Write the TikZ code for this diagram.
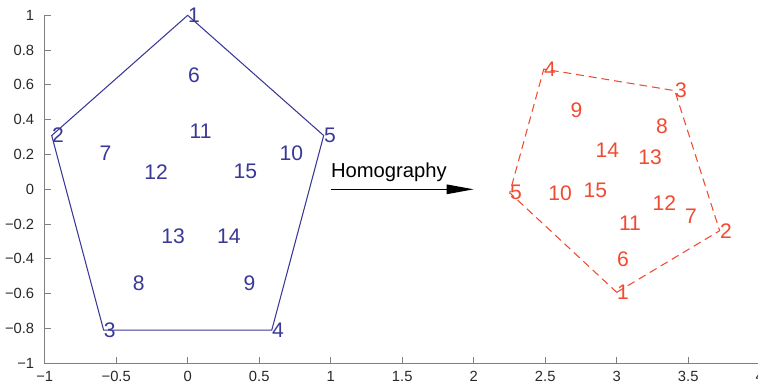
\documentclass[tikz,border=0pt]{standalone}
\usepackage{fontspec}
\setmainfont{Liberation Sans}
\usetikzlibrary{arrows.meta}

\definecolor{ptblue}{RGB}{58,56,150}
\definecolor{ptred}{RGB}{240,74,48}
\definecolor{axgray}{RGB}{128,128,128}
\definecolor{ticktext}{RGB}{40,40,40}

\begin{document}
\begin{tikzpicture}[x=2.86cm,y=3.48cm,
    ptlabel/.style={anchor=west,inner sep=0pt,font=\fontsize{12}{12}\selectfont},
    bluelabel/.style={ptlabel,text=ptblue},
    redlabel/.style={ptlabel,text=ptred},
    ticklabel/.style={inner sep=0pt,text=ticktext,font=\fontsize{8.4}{9}\selectfont}]

    \useasboundingbox (-1.3126,-1.136) rectangle (3.988,1.088);

    % 1. Axes (left and bottom only)
    \draw[axgray, line width=0.9pt] (-1,1) -- (-1,-1) -- (4.05,-1);

    % 2. Y ticks and labels
    \foreach \y/\t in {1/1, 0.8/0.8, 0.6/0.6, 0.4/0.4, 0.2/0.2, 0/0,
                       -0.2/−0.2, -0.4/−0.4, -0.6/−0.6, -0.8/−0.8, -1/−1}
        \draw[axgray, line width=0.6pt] (-1,\y) -- ++(0.045,0)
            node[ticklabel, anchor=east, xshift=-0.2cm] at (-1,\y) {\t};

    % 3. X ticks and labels
    \foreach \x/\t in {-1/−1, -0.5/−0.5, 0/0, 0.5/0.5, 1/1, 1.5/1.5,
                       2/2, 2.5/2.5, 3/3, 3.5/3.5, 4/4}
        \draw[axgray, line width=0.6pt] (\x,-1) -- ++(0,0.035)
            node[ticklabel, anchor=north, yshift=-0.15cm] at (\x,-1) {\t};

    % 4. Original pentagon (solid blue)
    \coordinate (b1) at (0,1);
    \coordinate (b2) at (-0.951,0.309);
    \coordinate (b3) at (-0.588,-0.809);
    \coordinate (b4) at (0.588,-0.809);
    \coordinate (b5) at (0.951,0.309);
    \draw[ptblue, line width=0.6pt] (b1) -- (b2) -- (b3) -- (b4) -- (b5) -- cycle;

    % blue point numbers
    \foreach \n in {1,...,5}
        \node[bluelabel] (bl\n) at (b\n) {\n};
    \foreach \n/\x/\y in {6/0/0.657, 7/-0.618/0.207, 8/-0.385/-0.537,
                          9/0.389/-0.537, 10/0.640/0.207, 11/0.011/0.331,
                          12/-0.306/0.101, 13/-0.187/-0.272, 14/0.203/-0.272,
                          15/0.319/0.101}
        \node[bluelabel] (bl\n) at (\x,\y) {\n};

    % 5. Homography arrow
    \coordinate (hstart) at (1.0,0.0);
    \coordinate (hend) at (2.0,0.0);
    \draw[black, line width=0.6pt, -{Triangle[length=0.54cm,width=0.19cm]}] (hstart) -- (hend);
    \node[anchor=west, inner sep=0pt, font=\fontsize{11.5}{12}\selectfont] (homog) at (1.0,0.097) {Homography};

    % 6. Transformed pentagon (dashed red)
    \coordinate (r1) at (3.0,-0.592);
    \coordinate (r2) at (3.720,-0.238);
    \coordinate (r3) at (3.406,0.567);
    \coordinate (r4) at (2.49,0.691);
    \coordinate (r5) at (2.252,-0.02);
    \draw[ptred, line width=0.6pt, dash pattern=on 4.5pt off 2.8pt]
        (r1) -- (r2) -- (r3) -- (r4) -- (r5) -- cycle;

    % red point numbers
    \foreach \n in {1,...,5}
        \node[redlabel] (rl\n) at (r\n) {\n};
    \foreach \n/\x/\y in {6/3.0/-0.401, 7/3.476/-0.153, 8/3.273/0.364,
                          9/2.676/0.452, 10/2.520/-0.02, 11/3.014/-0.195,
                          12/3.249/-0.077, 13/3.149/0.184, 14/2.850/0.226,
                          15/2.766/-0.004}
        \node[redlabel] (rl\n) at (\x,\y) {\n};

\end{tikzpicture}
\end{document}
